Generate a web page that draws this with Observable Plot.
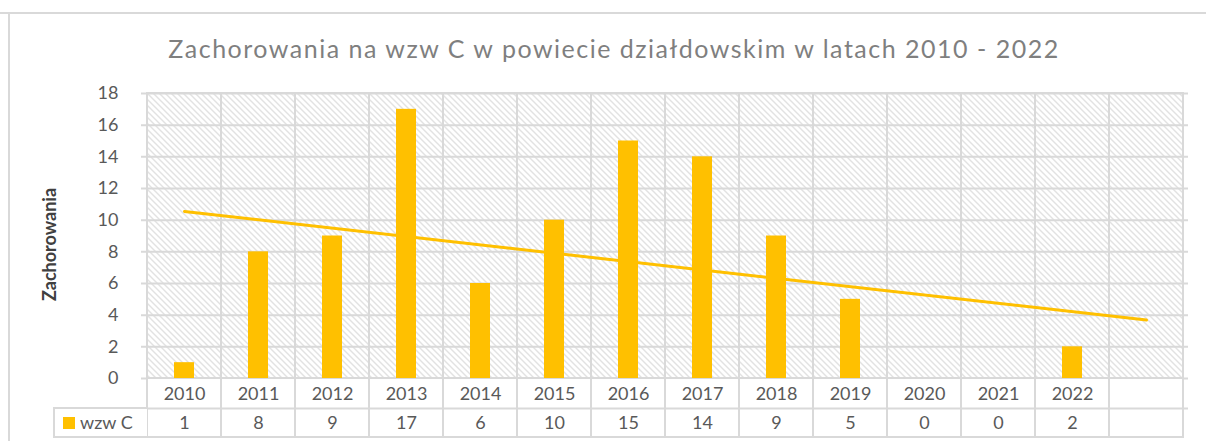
<!DOCTYPE html>
<html>
<head>
<meta charset="utf-8">
<script src="https://cdn.jsdelivr.net/npm/d3@7"></script>
<script src="https://cdn.jsdelivr.net/npm/@observablehq/plot@0.6"></script>
<style>
  html, body { margin: 0; padding: 0; background: #fff; }
  svg { display: block; }
</style>
</head>
<body>
<div id="chart"></div>
<script>
// ---- data ----
const categories = ["2010","2011","2012","2013","2014","2015","2016","2017","2018","2019","2020","2021","2022",""];
const years = ["2010","2011","2012","2013","2014","2015","2016","2017","2018","2019","2020","2021","2022"];
const values = [1, 8, 9, 17, 6, 10, 15, 14, 9, 5, 0, 0, 2];
const trendX = ["2010", ""];
const trendY = [10.55, 3.69];
const yTicks = [0, 2, 4, 6, 8, 10, 12, 14, 16, 18];
const seriesName = "wzw C";
const title = "Zachorowania na wzw C w powiecie działdowskim w latach 2010 - 2022";
const yLabel = "Zachorowania";

const barColor = "#FFC000";
const gridColor = "#d9d9d9";
const font = "Lato, 'Noto Sans', sans-serif";

const data = years.map((y, i) => ({year: y, value: values[i]}));
const trend = trendX.map((x, i) => ({x, y: trendY[i]}));

const plot = Plot.plot({
  width: 1206,
  height: 441,
  marginLeft: 141,
  marginRight: 18,
  marginTop: 93,
  marginBottom: 63,
  style: {fontFamily: font, background: "#fff"},
  x: {type: "band", domain: categories, padding: 0, axis: null},
  y: {domain: [0, 18], axis: null},
  marks: [
    // hatched plot cells with vertical grid lines
    Plot.barY(categories, {x: d => d, y1: 0, y2: 18, fill: "url(#hatch)", stroke: gridColor, strokeWidth: 2}),
    Plot.ruleY(yTicks, {stroke: gridColor, strokeWidth: 2}),
    // table cells below the plot
    Plot.barY(categories, {x: d => d, y1: 0, y2: 0, insetBottom: -59, fill: "#fff", stroke: gridColor, strokeWidth: 2}),
    Plot.ruleY([0], {dy: 30, stroke: gridColor, strokeWidth: 2}),
    // bars
    Plot.barY(data, {x: "year", y: "value", fill: barColor, insetLeft: 27, insetRight: 27}),
    // trend line
    Plot.line(trend, {x: "x", y: "y", stroke: barColor, strokeWidth: 3}),
    // y tick labels
    Plot.text(yTicks, {y: d => d, frameAnchor: "left", textAnchor: "end", dx: -23, fontSize: 18, fill: "#595959", text: d => String(d)}),
    // table text
    Plot.text(years, {x: d => d, y: 0, dy: 16, fontSize: 18, fill: "#595959", text: d => d}),
    Plot.text(data, {x: "year", y: 0, dy: 45, fontSize: 18, fill: "#595959", text: d => String(d.value)})
  ]
});

// pattern and outer frame / legend cell
const svg = d3.select(plot);
const defs = svg.insert("defs", ":first-child");
const pat = defs.append("pattern")
  .attr("id", "hatch")
  .attr("patternUnits", "userSpaceOnUse")
  .attr("width", 6).attr("height", 6);
pat.append("rect").attr("width", 6).attr("height", 6).attr("fill", "#fff");
pat.append("path").attr("d", "M-1,-1 L7,7 M-1,5 L1,7 M5,-1 L7,1")
  .attr("stroke", "#e2e2e2").attr("stroke-width", 1.4);

const xs = plot.scale("x");
const ys = plot.scale("y");
const y0 = ys.apply(0);
const x0 = xs.apply(categories[0]);

// title
svg.append("text")
  .attr("x", 614).attr("y", 58)
  .attr("text-anchor", "middle")
  .style("font-family", font).style("font-size", "25px").style("letter-spacing", "1.5px")
  .attr("fill", "#7f7f7f").text(title);

// y axis label
svg.append("text")
  .attr("transform", `translate(56,${(ys.apply(0) + ys.apply(18)) / 2 + 9}) rotate(-90)`)
  .attr("text-anchor", "middle")
  .style("font-family", font).style("font-size", "18px").style("font-weight", "bold")
  .attr("fill", "#404040").text(yLabel);

// outer chart-area border
const frame = svg.append("g");
frame.append("line").attr("x1", 0).attr("x2", 1206).attr("y1", 13).attr("y2", 13).attr("stroke", gridColor).attr("stroke-width", 2);
frame.append("line").attr("x1", 9).attr("x2", 9).attr("y1", 13).attr("y2", 441).attr("stroke", gridColor).attr("stroke-width", 2);

// legend cell
const legend = svg.append("g");
legend.append("path")
  .attr("d", `M${x0},${y0 + 30} H54 V${y0 + 59} H${x0}`)
  .attr("fill", "#fff").attr("stroke", gridColor).attr("stroke-width", 2);
legend.append("rect").attr("x", 63).attr("y", y0 + 39).attr("width", 12).attr("height", 12).attr("fill", barColor);
legend.append("text").attr("x", 80).attr("y", y0 + 45).attr("dy", "0.35em")
  .attr("text-anchor", "start")
  .style("font-size", "18px").style("font-family", font)
  .attr("fill", "#595959").text(seriesName);

document.getElementById("chart").appendChild(plot);
</script>
</body>
</html>
